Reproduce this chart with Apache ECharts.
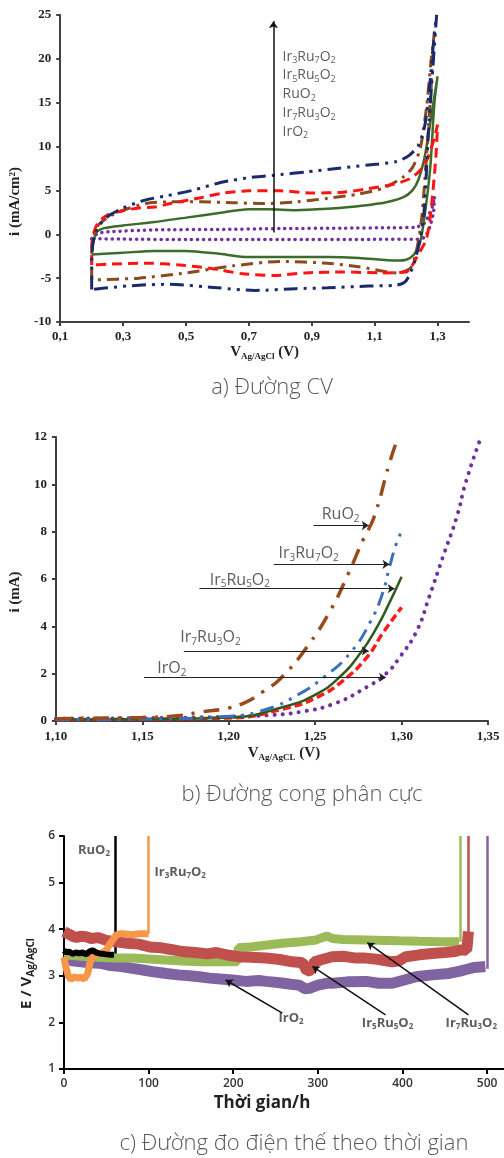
<!DOCTYPE html>
<html>
<head>
<meta charset="utf-8">
<script src="https://cdn.jsdelivr.net/npm/echarts@6/dist/echarts.min.js"></script>
<style>
  html, body { margin: 0; padding: 0; background: #fff; }
  #chart { width: 504px; height: 1158px; }
</style>
</head>
<body>
<div id="chart"></div>
<script>
// a) CV loops, [V, i]
const cvIr3Ru7 = [[0.20,-6.3],[0.20,-3.0],[0.205,-0.8],[0.22,0.8],[0.25,2.0],[0.30,3.0],[0.37,3.9],[0.44,4.4],[0.52,5.0],[0.61,5.9],[0.71,6.5],[0.80,6.8],[0.88,7.1],[0.98,7.5],[1.08,7.9],[1.17,8.3],[1.21,9.0],[1.24,10.2],[1.26,12.5],[1.275,17],[1.29,23],[1.297,25],[1.285,19],[1.27,11],[1.258,3],[1.245,-0.5],[1.225,-3.3],[1.20,-5.3],[1.17,-5.8],[1.08,-5.9],[0.95,-6.1],[0.85,-6.2],[0.72,-6.4],[0.60,-6.1],[0.45,-5.7],[0.35,-5.8],[0.25,-6.1],[0.20,-6.3]];
const cvRuO2 = [[0.20,-5.2],[0.20,-2.5],[0.205,-0.5],[0.22,1.0],[0.25,1.9],[0.29,2.6],[0.37,3.5],[0.45,3.7],[0.55,3.7],[0.65,3.6],[0.75,3.5],[0.85,3.7],[0.95,4.1],[1.05,4.6],[1.13,5.3],[1.19,6.5],[1.22,7.6],[1.245,9.8],[1.265,14.5],[1.28,20],[1.29,23],[1.28,17],[1.265,9],[1.25,2],[1.235,-1.5],[1.215,-3.8],[1.17,-4.4],[1.05,-3.7],[0.95,-3.3],[0.80,-3.1],[0.65,-3.6],[0.50,-4.4],[0.35,-5.0],[0.20,-5.2]];
const cvIr5Ru5 = [[0.20,-3.5],[0.20,-1.5],[0.205,0.0],[0.22,1.3],[0.25,2.2],[0.30,2.7],[0.35,3.0],[0.40,3.1],[0.45,3.5],[0.55,4.2],[0.62,4.7],[0.70,4.95],[0.80,4.95],[0.90,4.7],[1.00,4.8],[1.08,5.2],[1.16,5.7],[1.21,6.3],[1.245,7.3],[1.27,8.8],[1.29,11],[1.30,12.5],[1.295,9],[1.28,3],[1.265,-0.5],[1.24,-2.2],[1.20,-4.3],[1.12,-4.4],[1.00,-4.3],[0.88,-4.4],[0.78,-4.7],[0.68,-4.5],[0.58,-3.9],[0.48,-3.5],[0.38,-3.3],[0.25,-3.4],[0.20,-3.5]];
const cvIr7Ru3 = [[0.20,-2.3],[0.205,-1.0],[0.215,0.2],[0.24,0.7],[0.30,1.0],[0.40,1.4],[0.50,1.9],[0.60,2.4],[0.70,2.85],[0.76,2.85],[0.85,2.75],[0.95,2.9],[1.02,3.1],[1.13,3.6],[1.19,4.2],[1.22,5.0],[1.24,6.3],[1.26,9],[1.28,13.5],[1.30,18],[1.29,15],[1.277,7.7],[1.26,2.4],[1.245,-0.8],[1.225,-2.3],[1.20,-2.9],[1.17,-3.0],[1.05,-2.7],[0.95,-2.6],[0.80,-2.6],[0.70,-2.6],[0.60,-2.2],[0.50,-1.9],[0.40,-1.9],[0.30,-2.1],[0.20,-2.3]];
const cvIrO2 = [[0.20,-0.5],[0.22,0.1],[0.26,0.3],[0.40,0.5],[0.60,0.55],[0.80,0.65],[1.00,0.7],[1.15,0.75],[1.23,0.8],[1.26,1.3],[1.27,2.0],[1.285,3.3],[1.29,4.3],[1.287,2.5],[1.275,0.8],[1.26,-0.3],[1.24,-0.55],[1.10,-0.58],[0.80,-0.6],[0.50,-0.6],[0.30,-0.55],[0.20,-0.5]];
const cvNames = ['Ir3Ru7O2', 'Ir5Ru5O2', 'RuO2', 'Ir7Ru3O2', 'IrO2'];
const cvNameV = 0.807;
const cvNameI = [20.25, 18.15, 15.99, 13.78, 11.69];
const cvArrow = [[0.778, 0.2], [0.778, 24.3]];

// b) polarisation curves, [V, i]
const polRuO2 = [[1.10,0.1],[1.12,0.12],[1.15,0.15],[1.17,0.22],[1.184,0.38],[1.20,0.55],[1.21,0.8],[1.22,1.25],[1.23,1.8],[1.245,3.1],[1.259,4.7],[1.269,6.2],[1.278,7.7],[1.284,8.6],[1.293,10.9],[1.298,12.0]];
const polIr3Ru7 = [[1.10,0.05],[1.15,0.08],[1.20,0.2],[1.222,0.5],[1.241,1.15],[1.255,1.85],[1.27,2.85],[1.282,4.2],[1.289,5.4],[1.293,6.5],[1.297,7.5],[1.30,8.0]];
const polIr5Ru5 = [[1.10,0.05],[1.15,0.08],[1.20,0.15],[1.232,0.6],[1.251,1.15],[1.264,1.85],[1.276,2.85],[1.286,4.0],[1.293,5.0],[1.30,6.1]];
const polIr7Ru3 = [[1.10,0.05],[1.15,0.08],[1.20,0.13],[1.232,0.52],[1.251,1.0],[1.266,1.7],[1.28,2.7],[1.289,3.7],[1.30,4.8]];
const polIrO2 = [[1.10,0.1],[1.15,0.12],[1.20,0.18],[1.222,0.24],[1.241,0.38],[1.261,0.73],[1.28,1.44],[1.291,2.0],[1.299,2.7],[1.309,3.84],[1.316,5.25],[1.324,6.95],[1.332,8.64],[1.337,10.05],[1.345,11.8]];
const polNames = ['RuO2', 'Ir3Ru7O2', 'Ir5Ru5O2', 'Ir7Ru3O2', 'IrO2'];
const polNamePos = [[1.2538, 8.71], [1.2288, 7.09], [1.189, 5.96], [1.172, 3.53], [1.1587, 2.22]];
const polArrows = [[[1.249, 8.26], [1.281, 8.26]], [[1.226, 6.62], [1.293, 6.62]], [[1.183, 5.59], [1.296, 5.59]], [[1.174, 2.96], [1.281, 2.96]], [[1.151, 1.84], [1.291, 1.84]]];

// c) potential vs time, [h, E]
const potRuO2 = [[0,3.55],[3,3.5],[6,3.52],[10,3.47],[14,3.5],[18,3.48],[22,3.5],[26,3.46],[30,3.52],[34,3.55],[38,3.5],[42,3.48],[46,3.47],[50,3.46],[55,3.45],[59,3.45]];
const potIr3Ru7 = [[0,3.4],[2,3.2],[5,3.0],[8,2.92],[12,2.98],[16,2.95],[20,2.97],[24,2.93],[28,3.05],[31,3.3],[34,3.42],[38,3.48],[42,3.45],[46,3.5],[50,3.55],[54,3.68],[58,3.78],[62,3.88],[66,3.9],[72,3.9],[80,3.88],[88,3.9],[96,3.9],[100,3.9]];
const potIr5Ru5 = [[0,3.95],[5,3.9],[10,3.85],[15,3.82],[20,3.85],[26,3.84],[32,3.8],[40,3.82],[50,3.76],[62,3.73],[75,3.7],[88,3.68],[101,3.62],[115,3.6],[128,3.56],[140,3.52],[155,3.5],[170,3.47],[180,3.5],[195,3.44],[207,3.41],[220,3.4],[239,3.38],[255,3.35],[270,3.3],[282,3.28],[287,3.1],[292,3.12],[296,3.3],[305,3.35],[317,3.41],[330,3.42],[345,3.38],[357,3.38],[372,3.35],[388,3.3],[396,3.32],[404,3.41],[420,3.45],[435,3.48],[450,3.5],[462,3.52],[470,3.56],[476,3.55],[478,3.55],[478,3.95]];
const potIr7Ru3 = [[0,3.45],[20,3.42],[40,3.4],[60,3.38],[81,3.38],[100,3.36],[120,3.34],[140,3.32],[160,3.3],[180,3.3],[199,3.3],[205,3.3],[206,3.6],[220,3.62],[240,3.66],[258,3.7],[280,3.73],[298,3.77],[305,3.82],[311,3.85],[317,3.8],[330,3.78],[357,3.77],[380,3.76],[396,3.75],[420,3.74],[445,3.73],[467,3.73]];
const potIrO2 = [[0,3.38],[10,3.32],[20,3.3],[30,3.28],[42,3.27],[55,3.22],[68,3.2],[81,3.16],[95,3.12],[108,3.08],[121,3.05],[135,3.02],[148,3.0],[160,2.98],[172,2.95],[185,2.93],[199,2.91],[215,2.88],[230,2.9],[239,2.88],[255,2.85],[268,2.82],[278,2.8],[285,2.72],[290,2.73],[300,2.8],[310,2.84],[317,2.84],[335,2.87],[357,2.88],[372,2.84],[388,2.84],[400,2.9],[416,2.98],[435,3.02],[455,3.05],[468,3.1],[474,3.13],[485,3.18],[498,3.2]];
// failure spikes: [time, start E]
const potSpikes = [[60, 3.45], [100, 3.9], [468, 3.73], [478, 3.55], [500, 3.15]];
const potSpikeColors = ['#000000', '#f79646', '#9bbb59', '#c0504d', '#8064a2'];
const potNames = ['RuO2', 'Ir3Ru7O2', 'IrO2', 'Ir5Ru5O2', 'Ir7Ru3O2'];
const potNamePos = [[16.5, 5.69], [107, 5.23], [253.5, 2.09], [352, 1.98], [451, 1.98]];
const potArrows = [[[258, 2.2], [191, 2.91]], [[380, 2.16], [293.6, 3.2]], [[478, 2.16], [358.5, 3.71]]];

const chem = s => s.replace(/(\d)/g, '{s|$1}');

const chart = echarts.init(document.getElementById('chart'));

const serifLabel = { fontFamily: 'Liberation Serif', fontWeight: 'bold', fontSize: 13, color: '#222' };
const darkAxis = { lineStyle: { color: '#404040', width: 2 } };

function nameSeries(xi, names, pos, font) {
    return {
        type: 'scatter', xAxisIndex: xi, yAxisIndex: xi, symbolSize: 0, silent: true, z: 10,
        data: names.map((n, k) => ({ name: n, value: pos[k] })),
        label: {
            show: true, position: 'right', distance: 0,
            formatter: p => chem(p.name),
            fontFamily: font.family, fontSize: font.size, fontWeight: font.weight, color: font.color,
            rich: { s: { fontFamily: font.family, fontSize: Math.round(font.size * 0.65), fontWeight: font.weight, color: font.color, padding: [Math.round(font.size * 0.55), 0, 0, 0] } }
        }
    };
}

function arrowSeries(xi, arrows, width, color) {
    return {
        type: 'lines', coordinateSystem: 'cartesian2d', xAxisIndex: xi, yAxisIndex: xi, z: 9,
        symbol: ['none', 'arrow'], symbolSize: 7,
        lineStyle: { color: color, width: width, opacity: 1 },
        data: arrows.map(a => ({ coords: a }))
    };
}

const option = {
    animation: false,
    backgroundColor: '#fff',
    title: [
        { text: 'a) Đường CV', left: 267, top: 372, textAlign: 'center', textStyle: { fontFamily: 'Open Sans', fontWeight: 300, fontSize: 22, color: '#595959' } },
        { text: 'b) Đường cong phân cực', left: 297, top: 779, textAlign: 'center', textStyle: { fontFamily: 'Open Sans', fontWeight: 300, fontSize: 22, color: '#595959' } },
        { text: 'c) Đường đo điện thế theo thời gian', left: 289, top: 1128, textAlign: 'center', textStyle: { fontFamily: 'Open Sans', fontWeight: 300, fontSize: 22, color: '#595959' } }
    ],
    grid: [
        { left: 55, top: 15, width: 414, height: 307 },
        { left: 55, top: 437, width: 433, height: 284 },
        { left: 64, top: 836, width: 441, height: 233 }
    ],
    xAxis: [
        {
            gridIndex: 0, type: 'value', min: 0.1, max: 1.4, interval: 0.2,
            axisLine: { onZero: false, ...darkAxis }, axisTick: { length: 4, ...darkAxis }, splitLine: { show: false },
            axisLabel: { ...serifLabel, margin: 8, showMaxLabel: false, formatter: v => v.toFixed(1).replace('.', ',') },
            name: 'V{s|Ag/AgCl} (V)', nameLocation: 'middle', nameGap: 22,
            nameTextStyle: { fontFamily: 'Liberation Serif', fontWeight: 'bold', fontSize: 15, color: '#222', rich: { s: { fontFamily: 'Liberation Serif', fontWeight: 'bold', fontSize: 9, color: '#222', padding: [8, 0, 0, 0] } } }
        },
        {
            gridIndex: 1, type: 'value', min: 1.10, max: 1.35, interval: 0.05,
            axisLine: { onZero: false, ...darkAxis }, axisTick: { length: 4, ...darkAxis }, splitLine: { show: false },
            axisLabel: { ...serifLabel, margin: 9, formatter: v => v.toFixed(2).replace('.', ',') },
            name: 'V{s|Ag/AgCL} (V)', nameLocation: 'middle', nameGap: 24,
            nameTextStyle: { fontFamily: 'Liberation Serif', fontWeight: 'bold', fontSize: 15, color: '#222', padding: [0, 0, 0, 24], rich: { s: { fontFamily: 'Liberation Serif', fontWeight: 'bold', fontSize: 9, color: '#222', padding: [8, 0, 0, 0] } } }
        },
        {
            gridIndex: 2, type: 'value', min: 0, max: 520, interval: 100,
            axisLine: { onZero: false, lineStyle: { color: '#000', width: 2 } }, axisTick: { length: 5, lineStyle: { color: '#000', width: 2 } }, splitLine: { show: false },
            axisLabel: { fontFamily: 'Open Sans', fontSize: 12, fontWeight: 600, color: '#333', margin: 9, showMaxLabel: false },
            name: 'Thời gian/h', nameLocation: 'middle', nameGap: 26,
            nameTextStyle: { fontFamily: 'Open Sans', fontWeight: 'bold', fontSize: 17, color: '#222', padding: [0, 44, 0, 0] }
        }
    ],
    yAxis: [
        {
            gridIndex: 0, type: 'value', min: -10, max: 25, interval: 5,
            axisLine: { onZero: false, ...darkAxis }, axisTick: { length: 4, ...darkAxis }, splitLine: { show: false },
            axisLabel: { ...serifLabel, margin: 9 },
            name: 'i (mA/cm²)', nameLocation: 'middle', nameGap: 26, nameRotate: 90,
            nameTextStyle: { fontFamily: 'Liberation Serif', fontWeight: 'bold', fontSize: 15, color: '#222', padding: [0, 66, 0, 0] }
        },
        {
            gridIndex: 1, type: 'value', min: 0, max: 12, interval: 2,
            axisLine: { onZero: false, ...darkAxis }, axisTick: { length: 4, ...darkAxis }, splitLine: { show: false },
            axisLabel: { ...serifLabel, margin: 9 },
            name: 'i (mA)', nameLocation: 'middle', nameGap: 25, nameRotate: 90,
            nameTextStyle: { fontFamily: 'Liberation Serif', fontWeight: 'bold', fontSize: 15, color: '#222', padding: [0, 26, 0, 0] }
        },
        {
            gridIndex: 2, type: 'value', min: 1, max: 6, interval: 1,
            axisLine: { onZero: false, lineStyle: { color: '#000', width: 2 } }, axisTick: { length: 5, lineStyle: { color: '#000', width: 2 } }, splitLine: { show: false },
            axisLabel: { fontFamily: 'Open Sans', fontSize: 12, fontWeight: 600, color: '#333', margin: 9 },
            name: 'E / V{s|Ag/AgCl}', nameLocation: 'middle', nameGap: 28, nameRotate: 90,
            nameTextStyle: { fontFamily: 'Open Sans', fontWeight: 'bold', fontSize: 15, color: '#222', padding: [0, 42, 0, 0], rich: { s: { fontFamily: 'Open Sans', fontWeight: 'bold', fontSize: 10, color: '#222', padding: [8, 0, 0, 0] } } }
        }
    ],
    series: [
        // a) CV
        { type: 'line', xAxisIndex: 0, yAxisIndex: 0, data: cvIrO2, showSymbol: false, smooth: 0.25, lineStyle: { color: '#7030a0', width: 3.5, type: [0.1, 6], cap: 'round' } },
        { type: 'line', xAxisIndex: 0, yAxisIndex: 0, data: cvIr7Ru3, showSymbol: false, smooth: 0.25, lineStyle: { color: '#3d6b2a', width: 2.5 } },
        { type: 'line', xAxisIndex: 0, yAxisIndex: 0, data: cvRuO2, showSymbol: false, smooth: 0.25, lineStyle: { color: '#8b4a1c', width: 3, type: [12, 6, 3, 6] } },
        { type: 'line', xAxisIndex: 0, yAxisIndex: 0, data: cvIr5Ru5, showSymbol: false, smooth: 0.25, lineStyle: { color: '#ff1414', width: 3, type: [10, 6] } },
        { type: 'line', xAxisIndex: 0, yAxisIndex: 0, data: cvIr3Ru7, showSymbol: false, smooth: 0.25, lineStyle: { color: '#1a2a6c', width: 3, type: [14, 6, 3, 6, 3, 6] } },
        arrowSeries(0, [cvArrow], 1.5, '#111'),
        nameSeries(0, cvNames, cvNames.map((n, k) => [cvNameV, cvNameI[k]]), { family: 'Open Sans', size: 14, weight: 'normal', color: '#333' }),

        // b) polarisation
        { type: 'line', xAxisIndex: 1, yAxisIndex: 1, data: polIrO2, showSymbol: false, smooth: true, lineStyle: { color: '#7030a0', width: 4, type: [0.1, 8], cap: 'round' } },
        { type: 'line', xAxisIndex: 1, yAxisIndex: 1, data: polIr7Ru3, showSymbol: false, smooth: true, lineStyle: { color: '#ff1a1a', width: 3.5, type: [8, 4] } },
        { type: 'line', xAxisIndex: 1, yAxisIndex: 1, data: polIr5Ru5, showSymbol: false, smooth: true, lineStyle: { color: '#2f5a1e', width: 2.5 } },
        { type: 'line', xAxisIndex: 1, yAxisIndex: 1, data: polIr3Ru7, showSymbol: false, smooth: true, lineStyle: { color: '#3a70b8', width: 3, type: [14, 7, 3, 7, 3, 7] } },
        { type: 'line', xAxisIndex: 1, yAxisIndex: 1, data: polRuO2, showSymbol: false, smooth: true, lineStyle: { color: '#9a4b1c', width: 3.5, type: [16, 9, 3, 9] } },
        arrowSeries(1, polArrows, 1, '#222'),
        nameSeries(1, polNames, polNamePos, { family: 'Open Sans', size: 16, weight: 'normal', color: '#333' }),

        // c) potential vs time
        { type: 'line', xAxisIndex: 2, yAxisIndex: 2, data: potIrO2, showSymbol: false, lineStyle: { color: '#8064a2', width: 11 } },
        { type: 'line', xAxisIndex: 2, yAxisIndex: 2, data: potIr7Ru3, showSymbol: false, lineStyle: { color: '#9bbb59', width: 9 } },
        { type: 'line', xAxisIndex: 2, yAxisIndex: 2, data: potIr5Ru5, showSymbol: false, lineStyle: { color: '#c0504d', width: 11 } },
        { type: 'line', xAxisIndex: 2, yAxisIndex: 2, data: potIr3Ru7, showSymbol: false, lineStyle: { color: '#f79646', width: 7 } },
        { type: 'line', xAxisIndex: 2, yAxisIndex: 2, data: potRuO2, showSymbol: false, lineStyle: { color: '#000', width: 6 } },
        {
            type: 'lines', coordinateSystem: 'cartesian2d', xAxisIndex: 2, yAxisIndex: 2, z: 3,
            data: potSpikes.map((s, k) => ({ coords: [[s[0], s[1]], [s[0], 6]], lineStyle: { color: potSpikeColors[k], width: 2.5, opacity: 1 } }))
        },
        arrowSeries(2, potArrows, 1.5, '#111'),
        nameSeries(2, potNames, potNamePos, { family: 'Open Sans', size: 13, weight: 'bold', color: '#333' })
    ]
};

chart.setOption(option);
</script>
</body>
</html>
